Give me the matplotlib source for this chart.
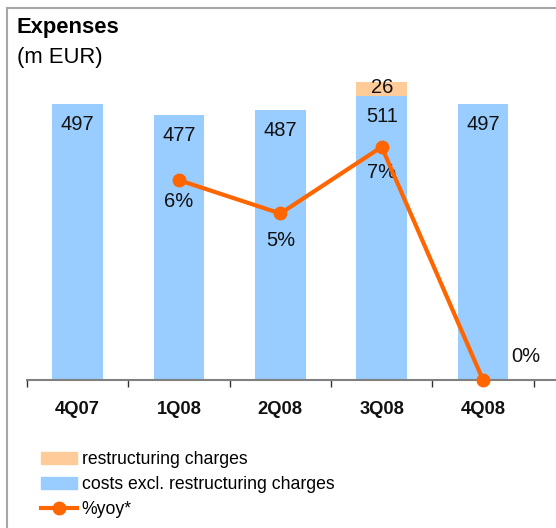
import matplotlib
matplotlib.use("Agg")
import matplotlib.pyplot as plt
from matplotlib.patches import Patch
from matplotlib.lines import Line2D
import numpy as np

plt.rcParams['font.family'] = ['Liberation Sans', 'DejaVu Sans']

categories = ["4Q07", "1Q08", "2Q08", "3Q08", "4Q08"]
costs = [497, 477, 487, 511, 497]
restructuring = [0, 0, 0, 26, 0]
yoy_cats = ["1Q08", "2Q08", "3Q08", "4Q08"]
yoy = [6, 5, 7, 0]

W, H = 556, 528
fig = plt.figure(figsize=(W / 100, H / 100), dpi=100)

# frame border
fig.add_artist(Line2D([7 / W, 7 / W], [0, 1 - 8 / H], color="#a6a6a6", lw=1.5, transform=fig.transFigure))
fig.add_artist(Line2D([7 / W, 1], [1 - 8 / H, 1 - 8 / H], color="#a6a6a6", lw=1.5, transform=fig.transFigure))

ax = fig.add_axes([27 / W, 1 - 380 / H, 1 - 27 / W, 333 / H])
x = np.arange(len(categories))
blue = "#99CCFF"
peach = "#FFCC99"
orange = "#FF6600"

ax.bar(x, costs, width=0.5, color=blue, zorder=1)
ax.bar(x, restructuring, width=0.5, bottom=costs, color=peach, zorder=1)
ax.set_xlim(-0.5, 4.72)
ax.set_ylim(0, 600)

for i, v in enumerate(costs):
    ax.text(i, v - 37, str(v), ha="center", va="center", fontsize=14.5, color="#111111")
for i, r in enumerate(restructuring):
    if r:
        ax.text(i, costs[i] + r / 2 + 3, str(r), ha="center", va="center", fontsize=14.5, color="#111111")

for s in ["top", "right", "left"]:
    ax.spines[s].set_visible(False)
ax.spines["bottom"].set_color("#808080")
ax.spines["bottom"].set_linewidth(1.5)
ax.spines["bottom"].set_zorder(2)
ax.set_yticks([])
ax.set_xticks(np.arange(-0.5, 5, 1.0))
ax.set_xticklabels([])
ax.tick_params(axis="x", direction="out", length=5, width=1, color="#333333")
for i, c in enumerate(categories):
    ax.text(i, -29 / 333, c, transform=ax.get_xaxis_transform(), ha="center", va="center",
            fontsize=13.2, fontweight="bold", color="#111111")

ax2 = ax.twinx()
ax2.set_ylim(0, 10)
ax2.set_xlim(-0.5, 4.72)
for s in ax2.spines.values():
    s.set_visible(False)
ax2.set_yticks([])
xi = [categories.index(c) for c in yoy_cats]
ax2.plot(xi, yoy, color=orange, lw=3, marker="o", ms=9, clip_on=False, zorder=5)
offsets = {0: (0, -0.64), 1: (0, -0.82), 2: (0, -0.78), 3: (0.42, 0.72)}
for k, (i, v) in enumerate(zip(xi, yoy)):
    dx, dy = offsets[k]
    ax2.text(i + dx, v + dy, f"{v}%", ha="center", va="center", fontsize=14.5, color="#111111")

fig.text(17 / W, 1 - 28 / H, "Expenses", fontsize=15.8, fontweight="bold", ha="left", va="center")
fig.text(17 / W, 1 - 57 / H, "(m EUR)", fontsize=15.8, ha="left", va="center")

handles = [Patch(color=peach), Patch(color=blue),
           Line2D([], [], color=orange, lw=3, marker="o", ms=9)]
labels = ["restructuring charges", "costs excl. restructuring charges", "%yoy*"]
fig.legend(handles, labels, loc="upper left", bbox_to_anchor=(41 / W, 1 - 451 / H),
           frameon=False, fontsize=12.7, handlelength=2.05, handletextpad=0.25,
           labelspacing=0.45, borderpad=0, borderaxespad=0)

fig.savefig("out.png", dpi=100)
